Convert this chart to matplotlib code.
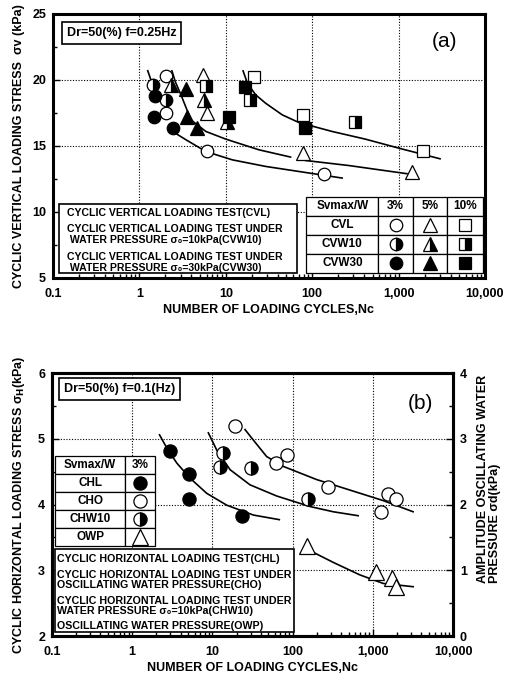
import numpy as np
import matplotlib.pyplot as plt
from matplotlib.patches import Rectangle
from matplotlib.ticker import FixedLocator, FixedFormatter, LogLocator, MultipleLocator, NullFormatter

plt.rcParams['font.family'] = ['Liberation Sans', 'DejaVu Sans']
plt.rcParams['font.weight'] = 'bold'
plt.rcParams['axes.labelweight'] = 'bold'
plt.rcParams['mathtext.default'] = 'bf'

# ---------------- data: panel (a) ----------------
# CVL (open), CVW10 (half filled), CVW30 (filled); 3% circle, 5% triangle, 10% square
cvl3_n = [2.03, 2.03, 6.0, 136]
cvl3_s = [20.3, 17.5, 14.6, 12.9]
cvw10_3_n = [1.45, 2.03]
cvw10_3_s = [19.6, 18.5]
cvw30_3_n = [1.53, 1.49, 2.42]
cvw30_3_s = [18.75, 17.2, 16.4]

cvl5_n = [5.47, 6.14, 78, 1426]
cvl5_s = [20.4, 17.5, 14.5, 13.0]
cvw10_5_n = [2.32, 5.6, 10.2]
cvw10_5_s = [19.6, 18.5, 16.8]
cvw30_5_n = [3.46, 3.55, 4.62]
cvw30_5_s = [19.3, 17.2, 16.4]

cvl10_n = [21.2, 78, 1892]
cvl10_s = [20.2, 17.35, 14.6]
cvw10_10_n = [5.88, 18.9, 316]
cvw10_10_s = [19.55, 18.5, 16.8]
cvw30_10_n = [16.7, 10.9, 82]
cvw30_10_s = [19.45, 17.2, 16.4]

# fitted curves
fit3_top_n = [1.25, 1.36]
fit3_top_s = [20.7, 20.0]
fit3_n = [2.42, 3.46, 5.88, 11.9, 29, 70, 222]
fit3_s = [16.1, 15.47, 14.58, 13.95, 13.45, 13.07, 12.57]
fit5_n = [2.38, 2.6, 3.03, 3.95, 5.88, 10, 24.2, 56.2]
fit5_s = [20.69, 19.88, 18.87, 16.98, 16.1, 15.52, 14.71, 14.16]
fit5b_n = [83.8, 265, 1250]
fit5b_s = [13.9, 13.52, 12.9]
fit10_n = [15.85, 17.8, 22.2, 28.9, 45, 70, 170, 412, 1000, 3020]
fit10_s = [20.69, 19.75, 18.87, 18.24, 17.36, 16.78, 16.1, 15.52, 14.84, 14.03]

# ---------------- data: panel (b) ----------------
chl_n = [2.97, 5.13, 5.13, 23.6]
chl_s = [4.81, 4.47, 4.08, 3.82]
chw10_n = [13.7, 12.5, 30, 157]
chw10_s = [4.79, 4.57, 4.55, 4.08]
cho_n = [19.1, 62, 84, 278, 1280, 1550, 1970]
cho_s = [5.20, 4.63, 4.76, 4.27, 3.88, 4.16, 4.08]
owp_n = [149, 1110, 1710, 1970]
owp_p = [1.37, 0.98, 0.88, 0.75]

fit_chl_n = [2.19, 2.7, 3.6, 5.27, 8.5, 15.1, 32.4, 68.2]
fit_chl_s = [5.06, 4.86, 4.63, 4.40, 4.17, 3.99, 3.84, 3.77]
fit_chw_n = [8.9, 11.3, 16.6, 29.4, 63.2, 164, 321, 656]
fit_chw_s = [5.09, 4.83, 4.53, 4.30, 4.13, 3.97, 3.89, 3.83]
fit_cho_n = [25.5, 32.4, 47.4, 76.5, 199, 518, 1346, 3180]
fit_cho_s = [5.14, 4.98, 4.73, 4.58, 4.38, 4.22, 4.06, 3.89]
fit_owp_n = [190, 321, 689, 1346, 3180]
fit_owp_p = [1.26, 1.12, 0.93, 0.80, 0.75]

xticks = [0.1, 1, 10, 100, 1000, 10000]
xlabels = ['0.1', '1', '10', '100', '1,000', '10,000']

text_a = ['CYCLIC VERTICAL LOADING TEST(CVL)',
          'CYCLIC VERTICAL LOADING TEST UNDER',
          ' WATER PRESSURE σ₀=10kPa(CVW10)',
          'CYCLIC VERTICAL LOADING TEST UNDER',
          ' WATER PRESSURE σ₀=30kPa(CVW30)']
text_b = ['CYCLIC HORIZONTAL LOADING TEST(CHL)',
          'CYCLIC HORIZONTAL LOADING TEST UNDER',
          'OSCILLATING WATER PRESSURE(CHO)',
          'CYCLIC HORIZONTAL LOADING TEST UNDER',
          'WATER PRESSURE σ₀=10kPa(CHW10)',
          'OSCILLATING WATER PRESSURE(OWP)']


def mstyle(shape, fill, size):
    d = dict(marker=shape, markersize=size, markeredgecolor='black',
             markeredgewidth=0.9, linestyle='none')
    if fill == 'open':
        d['markerfacecolor'] = 'white'
    elif fill == 'full':
        d['markerfacecolor'] = 'black'
    else:
        d.update(fillstyle='right', markerfacecolor='black', markerfacecoloralt='white')
    return d


def style_axes(ax):
    ax.set_xscale('log')
    ax.set_xlim(0.1, 10000)
    ax.xaxis.set_major_locator(FixedLocator(xticks))
    ax.xaxis.set_major_formatter(FixedFormatter(xlabels))
    ax.xaxis.set_minor_locator(LogLocator(base=10, subs=np.arange(2, 10)))
    ax.xaxis.set_minor_formatter(NullFormatter())
    ax.tick_params(which='both', direction='in', labelsize=9, width=1)
    ax.tick_params(which='major', length=5)
    ax.tick_params(which='minor', length=3)
    ax.tick_params(axis='x', pad=7)
    ax.tick_params(axis='y', pad=5)
    for s in ax.spines.values():
        s.set_linewidth(2.2)
    ax.grid(True, which='major', color='black', linestyle=(0, (1, 1.5)), linewidth=0.8)
    ax.set_axisbelow(True)


def draw_table(ax, bbox, col_w, header, rows, marks):
    x0, y0, w, h = bbox
    nrow = len(rows) + 1
    cells = [header] + [[r] + [''] * (len(header) - 1) for r in rows]
    tb = ax.table(cellText=cells, colWidths=col_w, bbox=bbox, cellLoc='center')
    tb.auto_set_font_size(False)
    tb.set_fontsize(8.5)
    tb.set_zorder(6)
    for cell in tb.get_celld().values():
        cell.set_linewidth(0.9)
        cell.get_text().set_fontweight('bold')
    edges = np.concatenate([[0], np.cumsum(col_w)]) / np.sum(col_w)
    for i, row in enumerate(marks):
        yc = y0 + h - (i + 1.5) * h / nrow
        for j, m in enumerate(row):
            xc = x0 + w * (edges[j + 1] + edges[j + 2]) / 2
            ax.plot([xc], [yc], transform=ax.transAxes, clip_on=False, zorder=7, **m)


fig = plt.figure(figsize=(5.12, 6.79), dpi=100)

# ================= panel (a) =================
ax = fig.add_axes([0.1035, 0.5906, 0.84375, 0.3888])
style_axes(ax)
ax.set_ylim(5, 25)
ax.yaxis.set_major_locator(MultipleLocator(5))
ax.yaxis.set_minor_locator(MultipleLocator(2.5))

for xs, ys in [(fit3_top_n, fit3_top_s), (fit3_n, fit3_s), (fit5_n, fit5_s),
               (fit5b_n, fit5b_s), (fit10_n, fit10_s)]:
    ax.plot(xs, ys, color='black', linewidth=1.2, zorder=2)

ms_c, ms_t, ms_s = 9, 10.5, 8.5
ax.plot(cvl3_n, cvl3_s, zorder=3, **mstyle('o', 'open', ms_c))
ax.plot(cvl5_n, cvl5_s, zorder=3, **mstyle('^', 'open', ms_t))
ax.plot(cvl10_n, cvl10_s, zorder=3, **mstyle('s', 'open', ms_s))
ax.plot(cvw10_3_n, cvw10_3_s, zorder=3, **mstyle('o', 'half', ms_c))
ax.plot(cvw10_5_n, cvw10_5_s, zorder=3, **mstyle('^', 'half', ms_t))
ax.plot(cvw10_10_n, cvw10_10_s, zorder=3, **mstyle('s', 'half', ms_s))
ax.plot(cvw30_3_n, cvw30_3_s, zorder=4, **mstyle('o', 'full', ms_c))
ax.plot(cvw30_5_n, cvw30_5_s, zorder=4, **mstyle('^', 'full', ms_t))
ax.plot(cvw30_10_n, cvw30_10_s, zorder=4, **mstyle('s', 'full', ms_s))

ax.set_xlabel('NUMBER OF LOADING CYCLES,Nc', fontsize=9, labelpad=3)
ax.set_ylabel('CYCLIC VERTICAL LOADING STRESS  σv (kPa)', fontsize=9, labelpad=5)

ax.text(0.159, 0.928, 'Dr=50(%) f=0.25Hz', transform=ax.transAxes, ha='center', va='center',
        fontsize=9, zorder=6,
        bbox=dict(boxstyle='square,pad=0.4', facecolor='white', edgecolor='black', linewidth=1.2))
ax.text(0.907, 0.895, '(a)', transform=ax.transAxes, ha='center', va='center',
        fontsize=15, fontweight='normal')

ax.add_patch(Rectangle((0.0146, 0.018), 0.55, 0.262, transform=ax.transAxes,
                       facecolor='white', edgecolor='black', linewidth=1.2, zorder=5))
for t, yy in zip(text_a, [0.246, 0.185, 0.142, 0.081, 0.038]):
    ax.text(0.032, yy, t, transform=ax.transAxes, ha='left', va='center',
            fontsize=7.6, zorder=6)

draw_table(ax, [0.586, 0.019, 0.409, 0.288], [217, 103, 102, 108],
           ['Svmax/W', '3%', '5%', '10%'], ['CVL', 'CVW10', 'CVW30'],
           [[mstyle('o', f, 9), mstyle('^', f, 10.5), mstyle('s', f, 8.5)]
            for f in ['open', 'half', 'full']])

# ================= panel (b) =================
bx = fig.add_axes([0.1016, 0.0633, 0.7832, 0.3873])
style_axes(bx)
bx.set_ylim(2, 6)
bx.yaxis.set_major_locator(MultipleLocator(1))
bx.yaxis.set_minor_locator(MultipleLocator(0.5))

rx = bx.twinx()
rx.set_ylim(0, 4)
rx.yaxis.set_major_locator(MultipleLocator(1))
rx.yaxis.set_minor_locator(MultipleLocator(0.5))
rx.tick_params(which='both', direction='in', labelsize=9, width=1, pad=5)
rx.tick_params(which='major', length=5)
rx.tick_params(which='minor', length=3)
for s in rx.spines.values():
    s.set_linewidth(2.2)

for xs, ys in [(fit_chl_n, fit_chl_s), (fit_chw_n, fit_chw_s), (fit_cho_n, fit_cho_s)]:
    bx.plot(xs, ys, color='black', linewidth=1.2, zorder=2)
rx.plot(fit_owp_n, fit_owp_p, color='black', linewidth=1.2, zorder=2)

bx.plot(chl_n, chl_s, zorder=3, **mstyle('o', 'full', 9.5))
bx.plot(chw10_n, chw10_s, zorder=3, **mstyle('o', 'half', 9.5))
bx.plot(cho_n, cho_s, zorder=3, **mstyle('o', 'open', 9.5))
rx.plot(owp_n, owp_p, zorder=3, **mstyle('^', 'open', 11.5))

bx.set_xlabel('NUMBER OF LOADING CYCLES,Nc', fontsize=9, labelpad=3)
bx.set_ylabel('CYCLIC HORIZONTAL LOADING STRESS σ$_H$(kPa)', fontsize=9, labelpad=8)
rx.text(1.09, 0.2, 'AMPLITUDE OSCILLATING WATER\nPRESSURE σd(kPa)', transform=rx.transAxes,
        rotation=90, ha='center', va='bottom', multialignment='left', fontsize=9,
        linespacing=1.0)

rx.text(0.168, 0.939, 'Dr=50(%) f=0.1(Hz)', transform=rx.transAxes, ha='center', va='center',
        fontsize=9, zorder=6,
        bbox=dict(boxstyle='square,pad=0.4', facecolor='white', edgecolor='black', linewidth=1.2))
rx.text(0.919, 0.885, '(b)', transform=rx.transAxes, ha='center', va='center',
        fontsize=15, fontweight='normal')

rx.add_patch(Rectangle((0.0075, 0.0163), 0.5955, 0.314, transform=rx.transAxes,
                       facecolor='white', edgecolor='black', linewidth=1.2, zorder=5))
for t, yy in zip(text_b, [0.291, 0.232, 0.194, 0.134, 0.096, 0.039]):
    rx.text(0.013, yy, t, transform=rx.transAxes, ha='left', va='center',
            fontsize=7.7, zorder=6)

draw_table(rx, [0.0075, 0.342, 0.2495, 0.342], [210, 90],
           ['Svmax/W', '3%'], ['CHL', 'CHO', 'CHW10', 'OWP'],
           [[mstyle('o', 'full', 9.5)], [mstyle('o', 'open', 9.5)],
            [mstyle('o', 'half', 9.5)], [mstyle('^', 'open', 11)]])

fig.savefig('out.png', dpi=100)
